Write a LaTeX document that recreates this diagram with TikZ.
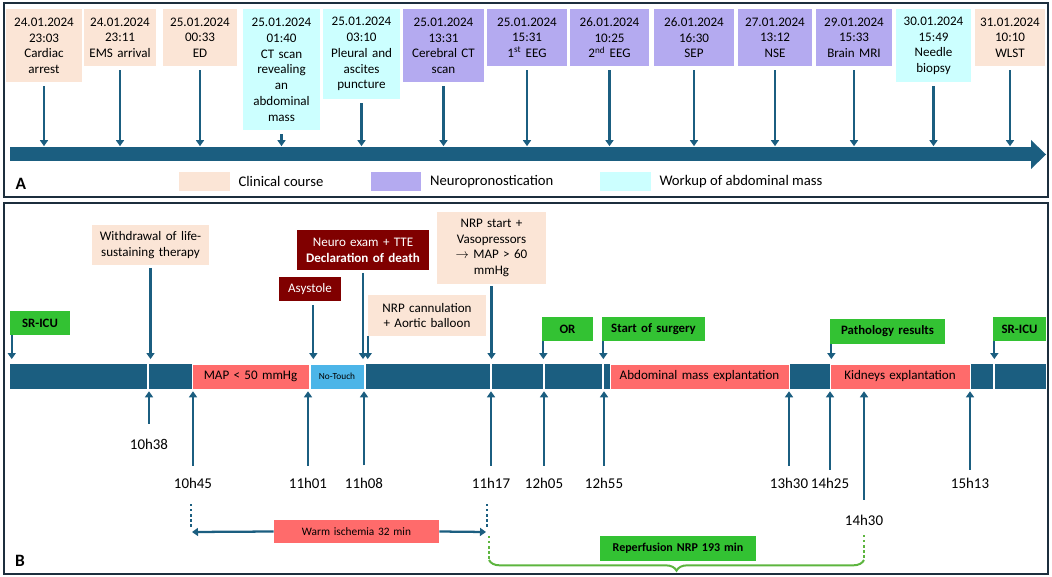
\documentclass[tikz,border=0pt]{standalone}
\usepackage{fontspec}
\setmainfont{Carlito}
\usetikzlibrary{arrows.meta,decorations.pathreplacing,calc}
\definecolor{peach}{HTML}{FBE5D6}
\definecolor{lav}{HTML}{B4AAF0}
\definecolor{cyn}{HTML}{CCFFFF}
\definecolor{barc}{HTML}{1B5E80}
\definecolor{grn}{HTML}{33C233}
\definecolor{grnl}{HTML}{5DB53F}
\definecolor{redseg}{HTML}{FF6B6B}
\definecolor{ntb}{HTML}{4CB5E8}
\definecolor{dred}{HTML}{800000}
\definecolor{frame}{HTML}{1C2E3D}
\newcommand\bx[7]{%
 \pgfmathsetmacro\bw{(#5-#3)*0.75}%
 \pgfmathsetmacro\bh{(#6-#4)*0.75}%
 \node[#2, minimum width=\bw pt, minimum height=\bh pt, text width=\bw pt] (#1) at ({(#3+#5)/2},{(#4+#6)/2}) {#7};}
\tikzset{
 bx/.style={inner sep=0pt, align=center, font=\fontsize{9.8}{11.8}\selectfont},
 pch/.style={bx, fill=peach},
 lavb/.style={bx, fill=lav},
 cynb/.style={bx, fill=cyn},
 grnb/.style={bx, fill=grn, font=\fontsize{9.6}{11.8}\selectfont\bfseries},
 drb/.style={bx, fill=dred, text=white},
 seg/.style={bx, draw=white, line width=0.5pt},
 barfill/.style={inner sep=0pt, fill=barc},
 arr/.style={draw=barc, line width=1.7pt, -{Triangle[length=4.5pt,width=6pt]}},
 tl/.style={inner sep=0pt, font=\fontsize{11.2}{13}\selectfont},
 frm/.style={draw=frame, line width=2.2pt},
 lgt/.style={inner sep=0pt, anchor=west, font=\fontsize{11}{13}\selectfont},
 dots/.style={dotted, line width=1.8pt},
}
\begin{document}
\begin{tikzpicture}[x=0.75pt,y=-0.75pt]
\useasboundingbox (0,0) rectangle (1052,577);
% ---------------- Panel A ----------------
\bx{b1}{pch}{6}{9.5}{82}{82}{24.01.2024\\23:03\\Cardiac\\arrest}
\bx{b2}{pch}{84}{9.5}{156}{66}{24.01.2024\\23:11\\EMS arrival}
\bx{b3}{pch}{163}{9.5}{237}{66}{25.01.2024\\00:33\\ED}
\bx{b4}{cynb}{243}{9.5}{320}{130}{25.01.2024\\01:40\\CT scan\\revealing\\an\\abdominal\\mass}
\bx{b5}{cynb}{323}{9.5}{400}{99}{25.01.2024\\03:10\\Pleural and\\ascites\\puncture}
\bx{b6}{lavb}{403}{9.5}{484}{82}{25.01.2024\\13:31\\Cerebral CT\\scan}
\bx{b7}{lavb}{487}{9.5}{567}{66}{25.01.2024\\15:31\\1\textsuperscript{st} EEG}
\bx{b8}{lavb}{570}{9.5}{649}{66}{26.01.2024\\10:25\\2\textsuperscript{nd} EEG}
\bx{b9}{lavb}{654}{9.5}{734}{66}{26.01.2024\\16:30\\SEP}
\bx{b10}{lavb}{738}{9.5}{812}{66}{27.01.2024\\13:12\\NSE}
\bx{b11}{lavb}{816}{9.5}{892}{66}{29.01.2024\\15:33\\Brain MRI}
\bx{b12}{cynb}{896}{9.5}{971}{82}{30.01.2024\\15:49\\Needle\\biopsy}
\bx{b13}{pch}{975}{9.5}{1045}{66}{31.01.2024\\10:10\\WLST}
\bx{barA}{barfill}{10}{147.5}{1032}{161.5}{}
\fill[barc] (1031,140) -- (1046,154.5) -- (1031,169) -- cycle;
\foreach \b in {b1,b2,b3,b4,b5,b6,b7,b8,b9,b10,b11,b12,b13}
  \draw[arr, shorten <=3pt, shorten >=0.8pt] (\b.south) -- (\b.south |- barA.north);
\bx{lg1}{bx, fill=peach}{179}{172}{230}{191}{}
\node[lgt] (lt1) at ([xshift=6pt]lg1.east) {Clinical course};
\bx{lg2}{bx, fill=lav}{371}{172}{421}{191}{}
\node[lgt] (lt2) at ([xshift=6.5pt]lg2.east) {Neuropronostication};
\bx{lg3}{bx, fill=cyn}{600}{172}{651}{191}{}
\node[lgt] (lt3) at ([xshift=6pt]lg3.east) {Workup of abdominal mass};
\node[inner sep=0pt, font=\fontsize{13}{15}\selectfont\bfseries] (lA) at (21,184) {A};
\draw[frm] (4,3) rectangle (1048,197);
% ---------------- Panel B ----------------
\bx{wd}{pch}{92}{225}{209}{265}{Withdrawal of life-\\sustaining therapy}
\bx{ne}{drb}{297}{230}{429}{270}{Neuro exam + TTE\\\textbf{Declaration of death}}
\bx{as}{drb}{279}{277}{341}{301}{Asystole}
\bx{ns}{pch}{437}{212}{546}{284}{NRP start +\\Vasopressors\\$\rightarrow$ MAP > 60\\mmHg}
\bx{nc}{pch}{368}{295}{486}{336}{NRP cannulation\\+ Aortic balloon}
\bx{s1}{grnb}{10}{311}{70}{335}{SR-ICU}
\bx{or}{grnb}{542}{317}{593}{341}{OR}
\bx{ss}{grnb}{602}{317}{705}{341}{Start of surgery}
\bx{pr}{grnb}{830}{319}{945}{344}{Pathology results}
\bx{s2}{grnb}{993}{317}{1046}{341}{SR-ICU}
\bx{barB}{barfill}{10}{364}{1046}{389}{}
\bx{map}{seg, fill=redseg}{192}{364}{309}{389}{MAP < 50 mmHg}
\bx{nt}{seg, fill=ntb, font=\fontsize{7}{8}\selectfont}{310}{364}{364}{389}{No-Touch}
\bx{ab}{seg, fill=redseg}{610}{364}{789}{389}{Abdominal mass explantation}
\bx{kd}{seg, fill=redseg}{830}{364}{970}{389}{Kidneys explantation}
\foreach \x in {148,365,491,544,603,994}
  \draw[white, line width=1.3pt] (\x,364) -- (\x,389);
% down arrows
\draw[arr, shorten >=3.5pt] ([xshift=1.5pt]s1.south west) -- ([xshift=1.5pt]s1.south west |- barB.north);
\draw[arr, shorten <=2pt, shorten >=3.5pt] (wd.south) -- (wd.south |- barB.north);
\draw[arr, shorten <=3pt, shorten >=3.5pt] ([xshift=2.5pt]as.south) -- ([xshift=2.5pt]as.south |- barB.north);
\draw[arr, shorten <=2pt, shorten >=3.5pt] (ne.south) -- (ne.south |- barB.north);
\draw[arr, shorten <=1.5pt, shorten >=3.5pt] (ns.south) -- (ns.south |- barB.north);
\draw[arr, shorten >=3.5pt] (nc.south west) -- (nc.south west |- barB.north);
\foreach \b in {or,ss,pr,s2}
  \draw[arr, shorten >=3.5pt] ([xshift=1.2pt]\b.south west) -- ([xshift=1.2pt]\b.south west |- barB.north);
% time labels and up arrows
\foreach \n/\t/\x/\y/\s in {t1/10h38/149/444/11, t2/10h45/193/483/9, t3/11h01/308/483/9,
  t4/11h08/364/483/9, t5/11h17/491/483/9, t6/12h05/544/483/9, t7/12h55/604/483/9,
  t8/13h30/789/483/9, t9/14h25/830/483/6, t10/14h30/864/520/11, t11/15h13/970/483/6}
{
  \node[tl] (\n) at (\x,\y) {\t};
  \draw[arr, shorten <=\s pt, shorten >=1.5pt] (\n.north) -- (\n.north |- barB.south);
}
% warm ischemia
\bx{warm}{bx, fill=redseg, font=\fontsize{8.5}{10}\selectfont}{274}{520}{439}{543}{Warm ischemia 32 min}
\coordinate (wl1) at (191,504); \coordinate (wl2) at (191,527);
\coordinate (wr1) at (487,504); \coordinate (wr2) at (487,527);
\draw[barc, dots] (wl1) -- (wl2);
\draw[barc, dots] (wr1) -- (wr2);
\coordinate (wla) at (192,532); \coordinate (wra) at (486,532);
\draw[arr] (warm.west) -- (wla);
\draw[arr] (warm.east) -- (wra);
% reperfusion
\coordinate (g1) at (489,536); \coordinate (g2) at (489,560);
\coordinate (g3) at (864,535); \coordinate (g4) at (864,560);
\draw[grnl, dots] (g1) -- (g2);
\draw[grnl, dots] (g3) -- (g4);
\draw[grnl, line width=1.5pt, decorate, decoration={brace, mirror, amplitude=8pt, aspect=0.5}] (g2) -- (g4);
\bx{rep}{grnb, font=\fontsize{9}{11}\selectfont\bfseries}{600}{536}{756}{561}{Reperfusion NRP 193 min}
\node[inner sep=0pt, font=\fontsize{13}{15}\selectfont\bfseries] (lB) at (20,561) {B};
\draw[frm] (4,203) rectangle (1048,574);
\end{tikzpicture}
\end{document}
